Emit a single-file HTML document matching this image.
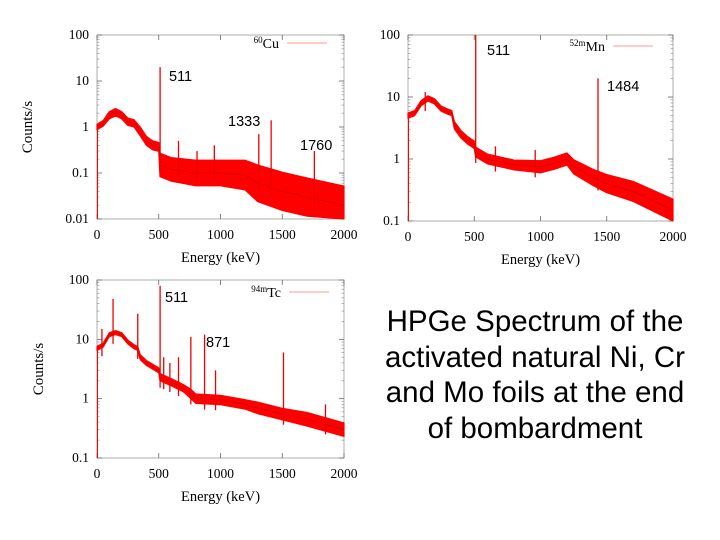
<!DOCTYPE html>
<html><head><meta charset="utf-8"><style>
body{margin:0;background:#fff;width:720px;height:540px;overflow:hidden;position:relative;font-family:"Liberation Serif",serif}
svg{position:absolute;left:0;top:0}
#desc{position:absolute;left:360px;top:304px;width:350px;text-align:center;font-family:"Liberation Sans",sans-serif;font-size:29.5px;line-height:35.7px;color:#000;white-space:nowrap}
</style></head><body>
<svg id="s" width="720" height="540"></svg>
<div id="desc">HPGe Spectrum of the<br>activated natural Ni, Cr<br>and Mo foils at the end<br>of bombardment</div>
<script>
// Cu-60 spectrum
const cuEnergy=[0,50,100,150,200,250,300,350,400,450,500,510,600,800,1000,1200,1300,1500,1700,2000];
const cuCounts=[1,1.2,1.8,2.1,1.8,1.3,1.2,0.8,0.5,0.4,0.37,0.15,0.12,0.1,0.1,0.09,0.06,0.04,0.03,0.02];
const cuNoise=[1.15,1.15,1.2,1.2,1.2,1.2,1.2,1.25,1.25,1.25,1.25,1.8,1.8,1.9,1.9,2.1,2.5,2.6,2.6,2.6];
const cuPeakE=[511,660,810,950,1310,1410,1760];
const cuPeakC=[20,0.5,0.3,0.4,0.7,1.4,0.3];
// Mn-52m spectrum
const mnEnergy=[0,50,100,150,200,250,300,330,350,400,450,500,510,600,800,1000,1100,1200,1250,1400,1500,1700,2000];
const mnCounts=[5,5.5,8,9.5,8.5,6.5,5.8,5.5,3.5,2.5,2,1.7,1.3,1.0,0.8,0.75,0.85,1.0,0.75,0.5,0.4,0.3,0.15];
const mnNoise=[1.1,1.1,1.1,1.1,1.1,1.1,1.1,1.1,1.15,1.15,1.15,1.15,1.2,1.2,1.2,1.25,1.25,1.25,1.3,1.35,1.4,1.45,1.5];
const mnPeakE=[130,511,660,960,1434];
const mnPeakC=[12,100,1.6,1.4,20];
// Tc-94m spectrum
const tcEnergy=[0,50,100,150,200,250,300,330,350,400,500,510,600,700,760,800,1000,1200,1300,1500,1700,2000];
const tcCounts=[7,8,12,13,12,9,7.5,7,5,4,3,2.3,1.9,1.5,1.2,1.0,0.95,0.8,0.7,0.55,0.45,0.3];
const tcNoise=[1.08,1.08,1.08,1.08,1.08,1.08,1.08,1.08,1.1,1.1,1.1,1.15,1.15,1.15,1.2,1.2,1.2,1.2,1.25,1.25,1.3,1.3];
const tcPeakE=[40,130,330,511,540,590,660,760,871,960,1510,1850];
const tcPeakC=[15,48,27,80,5,4,5,11,12,3,6,0.8];

const xTicks=[0,500,1000,1500,2000];
const NS="http://www.w3.org/2000/svg";
const svg=document.getElementById('s');
function el(t,a,p){const e=document.createElementNS(NS,t);for(const k in a)e.setAttribute(k,a[k]);(p||svg).appendChild(e);return e;}

function chart(c){
  const g=el('g',{});
  
  
  const X=e=>c.l+(e/2000)*(c.r-c.l);
  const Y=v=>{v=Math.max(c.ymin,Math.min(c.ymax,v));return c.b-(Math.log10(v)-Math.log10(c.ymin))/(Math.log10(c.ymax)-Math.log10(c.ymin))*(c.b-c.t);};
  const fr=el('rect',{x:c.l,y:c.t,width:c.r-c.l,height:c.b-c.t,fill:'none',stroke:'#999','stroke-width':0.8},g);
  
  for(let d=Math.log10(c.ymin);d<=Math.log10(c.ymax)+0.01;d++){
    const v=Math.pow(10,d),y=Y(v);
    el('line',{x1:c.l,x2:c.l+5,y1:y,y2:y,stroke:'#666','stroke-width':0.8},g);
    el('line',{x1:c.r,x2:c.r-5,y1:y,y2:y,stroke:'#666','stroke-width':0.8},g);
    for(let m=2;m<10&&d<Math.log10(c.ymax)-0.01;m++){const ym=Y(v*m);
      el('line',{x1:c.l,x2:c.l+2.5,y1:ym,y2:ym,stroke:'#888','stroke-width':0.6},g);
      el('line',{x1:c.r,x2:c.r-2.5,y1:ym,y2:ym,stroke:'#888','stroke-width':0.6},g);}
    const t=el('text',{x:c.l-8,y:y+4,'text-anchor':'end','font-size':13.5},g);
    t.textContent=v>=1?String(Math.round(v)):String(+v.toFixed(2));
    
  }
  xTicks.forEach(e=>{const x=X(e);
    el('line',{x1:x,x2:x,y1:c.b,y2:c.b-5,stroke:'#666','stroke-width':0.8},g);
    el('line',{x1:x,x2:x,y1:c.t,y2:c.t+5,stroke:'#666','stroke-width':0.8},g);
    const t=el('text',{x:x,y:c.b+20,'text-anchor':'middle','font-size':13.5},g);t.textContent=e;
    });
  const xt=el('text',{x:(c.l+c.r)/2,y:c.b+43,'text-anchor':'middle','font-size':14.5},g);xt.textContent='Energy (keV)';
  
  if(c.ylab){const yt=el('text',{x:0,y:0,'text-anchor':'middle','font-size':15,transform:`translate(${c.ylab},${(c.t+c.b)/2}) rotate(-90)`},g);yt.textContent='Counts/s';
    }
  let up='',lo='';
  c.E.forEach((e,i)=>{up+=X(e)+','+Y(c.C[i]*c.N[i])+' ';});
  for(let i=c.E.length-1;i>=0;i--)lo+=X(c.E[i])+','+Y(c.C[i]/c.N[i])+' ';
  const band=el('polygon',{points:up+lo,fill:'#f00',stroke:'#f00','stroke-width':1.2,'stroke-linejoin':'round'},g);
  
  const line=el('polyline',{points:c.E.map((e,i)=>X(e)+','+Y(c.C[i])).join(' '),fill:'none',stroke:'#d00','stroke-width':1},g);
  
  el('line',{x1:X(0)+0.5,x2:X(0)+0.5,y1:c.b,y2:Y(c.C[0]),stroke:'#f00','stroke-width':1},g);
  c.PE.forEach((e,i)=>{
    const p=el('line',{x1:X(e),x2:X(e),y1:Y(interp(c,e)/1.5),y2:Y(c.PC[i]),stroke:'#e00','stroke-width':1.3},g);
    });
  const lt=el('text',{x:c.lg[0],y:c.lg[1],'text-anchor':'end','font-size':14},g);
  const s1=el('tspan',{'font-size':9,dy:-5},lt);s1.textContent=c.iso[0];
  const s2=el('tspan',{dy:5},lt);s2.textContent=c.iso[1];
  
  const ll=el('line',{x1:c.lg[0]+8,x2:c.lg[0]+48,y1:c.lg[1]-5,y2:c.lg[1]-5,stroke:'#f99','stroke-width':1},g);
  
  c.ann.forEach(a=>{const t=el('text',{x:a[1],y:a[2],'font-family':'"Liberation Sans",sans-serif','font-size':14.5},g);t.textContent=a[0];
    });
}
function interp(c,e){for(let i=1;i<c.E.length;i++){if(e<=c.E[i]){const f=(e-c.E[i-1])/(c.E[i]-c.E[i-1]);return c.C[i-1]+f*(c.C[i]-c.C[i-1]);}}return c.C[c.C.length-1];}

chart({name:'cu60-chart',l:97,r:344,t:35,b:219,ymin:0.01,ymax:100,E:cuEnergy,C:cuCounts,N:cuNoise,PE:cuPeakE,PC:cuPeakC,ylab:32,lg:[279,48],iso:['60','Cu'],ann:[['511',169,81],['1333',228,126],['1760',300,150]]});
chart({name:'mn52m-chart',l:408,r:673,t:35,b:221,ymin:0.1,ymax:100,E:mnEnergy,C:mnCounts,N:mnNoise,PE:mnPeakE,PC:mnPeakC,ylab:0,lg:[605,51],iso:['52m','Mn'],ann:[['511',487,55],['1484',607,91]]});
chart({name:'tc94m-chart',l:97,r:344,t:280,b:458,ymin:0.1,ymax:100,E:tcEnergy,C:tcCounts,N:tcNoise,PE:tcPeakE,PC:tcPeakC,ylab:43,lg:[281,297],iso:['94m','Tc'],ann:[['511',165,302],['871',206,347]]});
</script>
</body></html>
